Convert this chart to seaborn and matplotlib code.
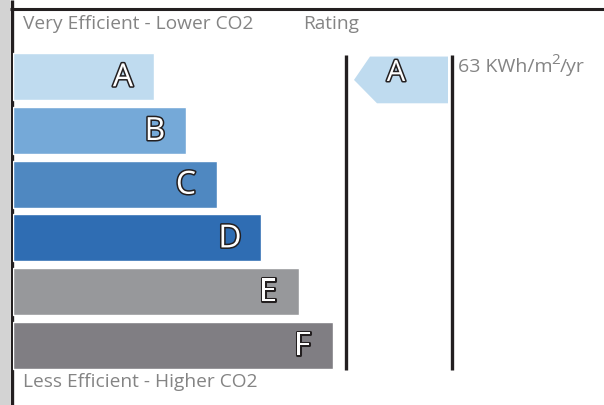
import matplotlib
matplotlib.use("Agg")
import matplotlib.pyplot as plt
import matplotlib.patheffects as pe
from matplotlib.patches import Polygon, Rectangle
import numpy as np
import pandas as pd
import seaborn as sns

# chart data
ratings = ["A", "B", "C", "D", "E", "F"]
bar_lengths = [141, 173, 204, 248, 286, 320]
bar_colors = ["#bfdbef", "#75a9d8", "#4f88c1", "#2f6db3", "#97989b", "#807e83"]
current_rating = "A"
value_parts = ["63 KWh/m", "2", "/yr"]
top_label = "Very Efficient - Lower CO2"
bottom_label = "Less Efficient - Higher CO2"
header_label = "Rating"

sns.set_theme(style="white")
plt.rcParams["font.family"] = ["Open Sans", "DejaVu Sans"]

W, H = 604, 405
fig = plt.figure(figsize=(W / 100, H / 100), dpi=100)
fig.patch.set_facecolor("white")

# overlay axes in pixel coordinates for frame and labels
bg = fig.add_axes([0, 0, 1, 1])
bg.set_xlim(0, W)
bg.set_ylim(H, 0)
bg.axis("off")
bg.add_patch(Rectangle((0, 0), 9.5, H, color="#d3d3d3", lw=0))
bg.plot([11.5, 11.5], [0, H], color="#231f20", lw=2.4, solid_capstyle="butt")
bg.plot([10, W], [9, 9], color="#231f20", lw=2.2, solid_capstyle="butt")
text_gray = "#848484"
bg.text(23, 24, top_label, color=text_gray, fontsize=13.8, va="center", ha="left")
bg.text(303, 24, header_label, color=text_gray, fontsize=13.8, va="center", ha="left")
bg.text(23, 382, bottom_label, color=text_gray, fontsize=13.8, va="center", ha="left")
bg.plot([346, 346], [55, 370], color="#231f20", lw=2.4, solid_capstyle="butt")
bg.plot([452, 452], [55, 370], color="#231f20", lw=2.4, solid_capstyle="butt")

# bars axes: x in pixels from bar start, categories on y
top_c, bot_c = 76.7, 345.3
pitch = (bot_c - top_c) / (len(ratings) - 1)
y0 = top_c - pitch / 2
y1 = bot_c + pitch / 2
ax = fig.add_axes([13 / W, 1 - y1 / H, (W - 13) / W, (y1 - y0) / H])
df = pd.DataFrame({"rating": ratings, "length": bar_lengths})
sns.barplot(data=df, x="length", y="rating", hue="rating", palette=bar_colors,
            orient="h", width=0.87, legend=False, saturation=1, ax=ax)
ax.set_xlim(0, W - 13)
ax.axis("off")

outline = [pe.withStroke(linewidth=2.2, foreground="#231f20")]
for i, (r, v) in enumerate(zip(ratings, bar_lengths)):
    ax.text(v - 31, i + 0.02, r, color="white", fontsize=23, ha="center",
            va="center", path_effects=outline)

# current rating arrow, aligned with its row
idx = ratings.index(current_rating)
col = bar_colors[idx]
yc = idx + 0.06
hh = 0.87 / 2
ax.add_patch(Polygon([(354 - 13, yc), (370 - 13, yc - hh), (448 - 13, yc - hh),
                      (448 - 13, yc + hh), (377 - 13, yc + hh)],
                     closed=True, color=col, lw=0))
ax.text(396 - 13, yc - 0.12, current_rating, color="white", fontsize=21,
        ha="center", va="center", path_effects=outline)

# energy value with raised superscript, pieces placed side by side
renderer = fig.canvas.get_renderer()
x = 458
sizes = [14, 11, 14]
ys = [67, 61, 67]
for part, fs, yy in zip(value_parts, sizes, ys):
    t = bg.text(x, yy, part, color=text_gray, fontsize=fs, ha="left", va="center")
    bb = t.get_window_extent(renderer=renderer)
    x += bb.width - 1

fig.savefig("out.png", dpi=100)
